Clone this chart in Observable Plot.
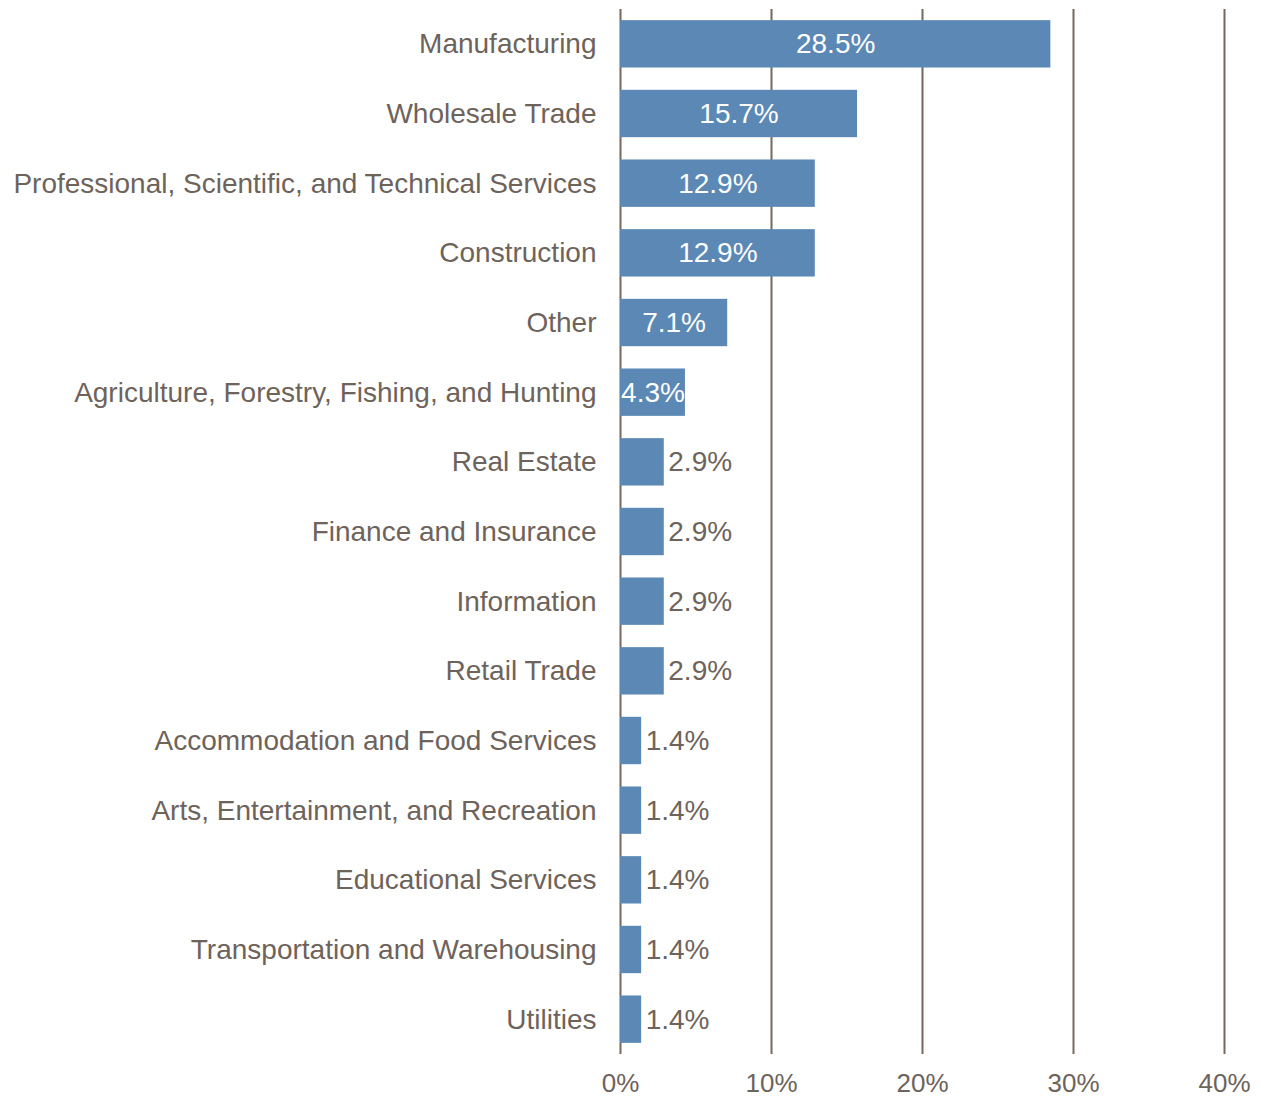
<!DOCTYPE html>
<html>
<head>
<meta charset="utf-8">
<script src="https://cdn.jsdelivr.net/npm/d3@7"></script>
<script src="https://cdn.jsdelivr.net/npm/@observablehq/plot@0.6"></script>
<style>
  html, body { margin: 0; padding: 0; background: #fff; }
  #chart svg { display: block; overflow: visible; }
</style>
</head>
<body>
<div id="chart"></div>
<script>
const categories = [
  "Manufacturing",
  "Wholesale Trade",
  "Professional, Scientific, and Technical Services",
  "Construction",
  "Other",
  "Agriculture, Forestry, Fishing, and Hunting",
  "Real Estate",
  "Finance and Insurance",
  "Information",
  "Retail Trade",
  "Accommodation and Food Services",
  "Arts, Entertainment, and Recreation",
  "Educational Services",
  "Transportation and Warehousing",
  "Utilities"
];
const values = [28.5, 15.7, 12.9, 12.9, 7.1, 4.3, 2.9, 2.9, 2.9, 2.9, 1.4, 1.4, 1.4, 1.4, 1.4];
const xTicks = [0, 10, 20, 30, 40];

const data = categories.map((c, i) => ({category: c, value: values[i]}));
const inside = data.filter(d => d.value >= 4);
const outside = data.filter(d => d.value < 4);

const textColor = "#6e635b";
const gridColor = "#75695f";
const barColor = "#5b88b4";

const chart = Plot.plot({
  width: 1267,
  height: 1099,
  marginLeft: 620,
  marginRight: 43,
  marginTop: 9,
  marginBottom: 45,
  style: {fontFamily: "'Liberation Sans', Arial, sans-serif", color: textColor, background: "#fff"},
  x: {domain: [0, 40], ticks: xTicks, tickFormat: d => d + "%"},
  y: {domain: categories, paddingInner: 0.32, paddingOuter: 0.16, round: false},
  marks: [
    Plot.ruleX(xTicks, {stroke: gridColor, strokeWidth: 2}),
    Plot.barX(data, {x: "value", y: "category", fill: barColor}),
    Plot.text(inside, {x: d => d.value / 2, y: "category", text: d => d.value.toFixed(1) + "%", fill: "white", fontSize: 28, textAnchor: "middle"}),
    Plot.text(outside, {x: "value", y: "category", text: d => d.value.toFixed(1) + "%", fill: textColor, fontSize: 28, textAnchor: "start", dx: 4}),
    Plot.axisX({ticks: xTicks, tickFormat: d => d + "%", tickSize: 0, tickPadding: 19, fontSize: 26, fill: textColor, label: null}),
    Plot.axisY({tickSize: 0, tickPadding: 24, fontSize: 28, fill: textColor, label: null})
  ]
});
document.getElementById("chart").appendChild(chart);
</script>
</body>
</html>
